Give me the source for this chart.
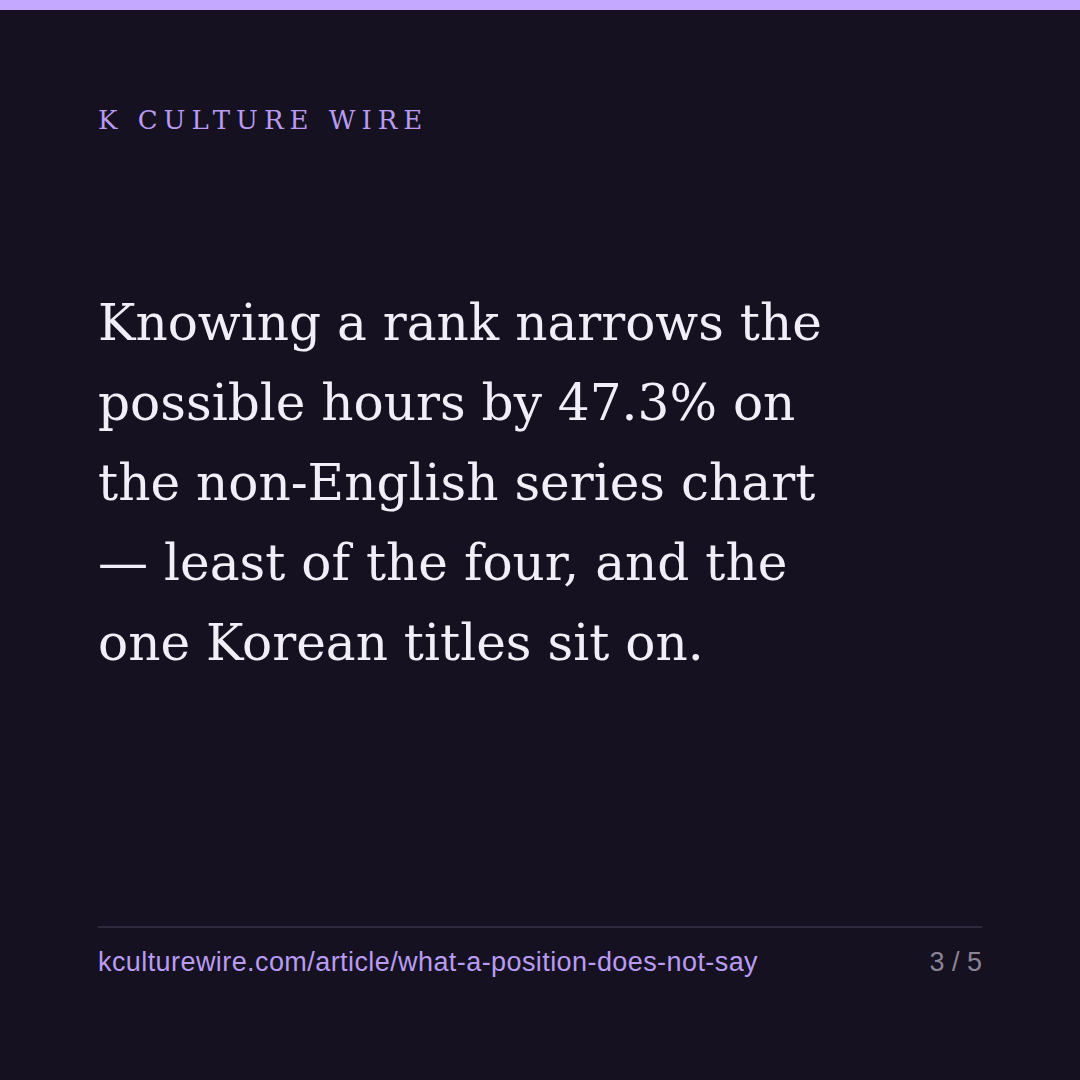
<!DOCTYPE html>
<html><head><meta charset="utf-8">
<script src="https://cdn.jsdelivr.net/npm/chart.js@4"></script>
<style>
html,body{margin:0;padding:0;background:#151120;}
#card{position:relative;width:1080px;height:1080px;background:#151120;overflow:hidden;}
#bar{position:absolute;left:0;top:0;width:1080px;height:10px;background:#c4a8ff;}
#kicker{position:absolute;left:98px;top:105px;font-family:"DejaVu Serif",serif;font-size:26px;letter-spacing:6px;color:#b89cf2;white-space:nowrap;}
#head{position:absolute;left:98px;top:283px;font-family:"DejaVu Serif",serif;font-size:54px;line-height:80px;color:#f1eef8;white-space:nowrap;}
#rule{position:absolute;left:98px;top:926px;width:884px;height:2px;background:#2e2a3d;}
#url{position:absolute;left:98px;top:947px;font-family:"Liberation Sans",Arial,sans-serif;font-size:27px;color:#b89cf2;white-space:nowrap;}
#page{position:absolute;right:98px;top:947px;font-family:"Liberation Sans",Arial,sans-serif;font-size:27px;color:#8a8596;white-space:nowrap;}
</style></head>
<body>
<div id="card">
<div id="bar"></div>
<div id="kicker"></div>
<div id="head"></div>
<div id="rule"></div>
<div id="url"></div>
<div id="page"></div>
</div>
<script>
const kicker = "K CULTURE WIRE";
const headlineLines = [
  "Knowing a rank narrows the",
  "possible hours by 47.3% on",
  "the non-English series chart",
  "— least of the four, and the",
  "one Korean titles sit on."
];
const footerUrl = "kculturewire.com/article/what-a-position-does-not-say";
const pageLabel = "3 / 5";
document.getElementById('kicker').textContent = kicker;
document.getElementById('head').innerHTML = headlineLines.map(s=>s.replace(/&/g,'&amp;')).join('<br>');
document.getElementById('url').textContent = footerUrl;
document.getElementById('page').textContent = pageLabel;
const c = document.createElement('canvas').getContext('2d');
// fit headline first line to reference width (724px)
c.font = '54px "DejaVu Serif"';
const w = c.measureText(headlineLines[0]).width;
document.getElementById('head').style.fontSize = Math.max(40, Math.min(64, 54 * 724 / w)).toFixed(1) + 'px';
// fit footer url to reference width (660px) using letter spacing
c.font = '27px "Liberation Sans"';
const uw = c.measureText(footerUrl).width;
const ls = (660 - uw) / footerUrl.length;
document.getElementById('url').style.letterSpacing = Math.max(-1, Math.min(2, ls)).toFixed(2) + 'px';
</script>
</body></html>
